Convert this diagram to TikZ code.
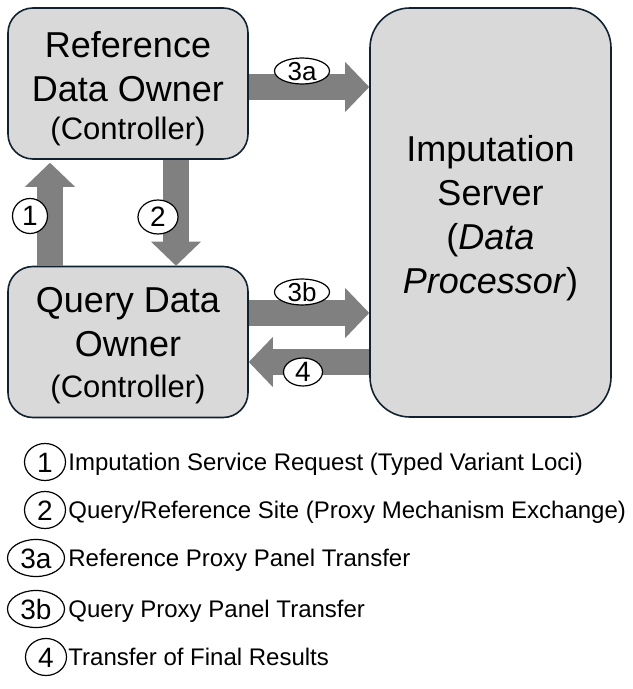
\documentclass[tikz,border=0pt]{standalone}
\usepackage{fontspec}
\setmainfont{Liberation Sans}
\usetikzlibrary{arrows.meta,shapes.geometric}
\definecolor{boxfill}{HTML}{D9D9D9}
\definecolor{boxline}{HTML}{102230}
\definecolor{flowgray}{HTML}{808080}
\tikzset{
  party/.style={draw=boxline, fill=boxfill, line width=0.8pt, rounded corners=12.5pt,
    minimum width=120pt, minimum height=75.5pt, inner sep=0pt, align=center,
    font=\fontsize{18}{22}\selectfont},
  flow/.style={draw=flowgray, line width=13pt,
    -{Triangle[length=12pt,width=25pt,line width=0pt]}},
  tag/.style={ellipse, draw=black, fill=white, line width=0.6pt, inner sep=0pt,
    font=\fontsize{14}{16}\selectfont},
  flattag/.style={tag, text height=9.2pt, text depth=-0.9pt, font=\fontsize{13}{15}\selectfont},
  keytag/.style={ellipse, draw=black, fill=white, line width=0.6pt, inner sep=0pt,
    minimum height=18.5pt, text height=10pt, text depth=0pt, font=\fontsize{14}{16}\selectfont},
  keytext/.style={anchor=base west, inner sep=0pt, font=\fontsize{12}{14}\selectfont}
}
\newcommand{\ctrl}{{\fontsize{15.5}{22}\selectfont (Controller)}}
\begin{document}
\begin{tikzpicture}[x=0.5pt,y=-0.5pt]
\useasboundingbox (0,0) rectangle (632,689);
% the three parties
\node [party] (ref) at (128,83.5) {\rule{0pt}{18pt}Reference\\Data Owner\\[-3pt]\ctrl};
\node [party] (qry) at (128,342) {\rule{0pt}{16pt}Query Data\\Owner\\[-1.5pt]\ctrl};
\node [party, minimum width=120.5pt, minimum height=204.5pt, rounded corners=20pt] (srv) at (490.5,212.5)
  {\rule{0pt}{18.5pt}Imputation\\Server\\(\textit{Data}\\\textit{Processor})};
% where the flows run
\coordinate (up) at (50,0);
\coordinate (down) at (176,0);
\coordinate (ya) at (0,87);
\coordinate (yb) at (0,313);
\coordinate (yr) at (0,362);
\draw [flow] (qry.north -| up) -- ([yshift=-1.5pt]ref.south -| up);
\draw [flow] (ref.south -| down) -- (qry.north -| down);
\draw [flow] (ref.east |- ya) -- (srv.west |- ya);
\draw [flow] (qry.east |- yb) -- (srv.west |- yb);
\draw [flow] (srv.west |- yr) -- (qry.east |- yr);
% step numbers
\node [tag, minimum width=17.5pt, minimum height=17.5pt] (t1) at (30,216) {1};
\node [tag, minimum width=20pt, minimum height=17pt] (t2) at (158,217) {2};
\node [flattag, minimum width=27.5pt, minimum height=11.5pt] (t3a) at (302,71) {3a};
\node [flattag, minimum width=27.5pt, minimum height=11.5pt] (t3b) at (302,292) {3b};
\node [tag, minimum width=19.5pt, minimum height=14pt] (t4) at (303,372) {4};
% legend
\node [keytag, minimum width=20.5pt] (k1) at (45,462) {1};
\node [keytag, minimum width=20.5pt] (k2) at (45,510) {2};
\node [keytag, minimum width=28.5pt] (k3a) at (36,558) {3a};
\node [keytag, minimum width=28.5pt] (k3b) at (36,609) {3b};
\node [keytag, minimum width=20.5pt] (k4) at (46,657) {4};
\node [keytext] (d1) at (68,470.5) {Imputation Service Request (Typed Variant Loci)};
\node [keytext] (d2) at (68,518.5) {Query/Reference Site (Proxy Mechanism Exchange)};
\node [keytext] (d3a) at (68,566.5) {Reference Proxy Panel Transfer};
\node [keytext] (d3b) at (68,617.5) {Query Proxy Panel Transfer};
\node [keytext] (d4) at (68,665.5) {Transfer of Final Results};
\end{tikzpicture}
\end{document}
